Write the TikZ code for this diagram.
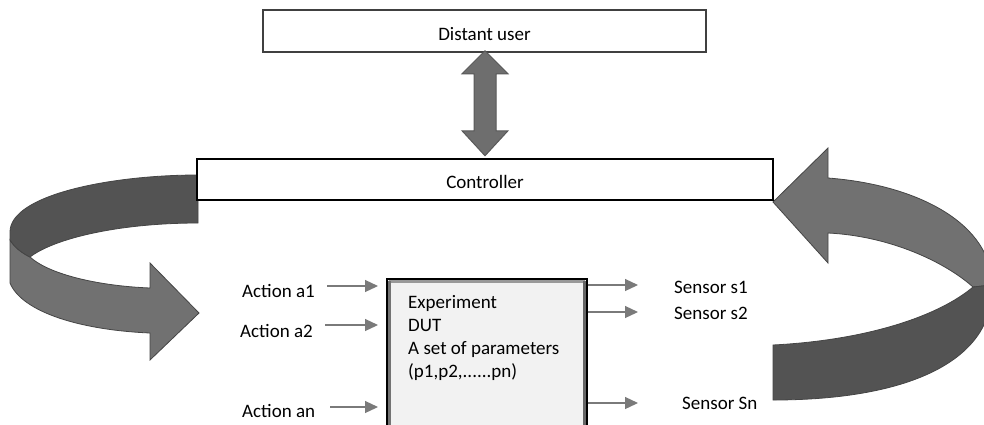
\documentclass[tikz,border=0pt]{standalone}
\usepackage{fontspec}
\setmainfont{Carlito}
\usetikzlibrary{arrows.meta,calc}
\definecolor{ribdark}{HTML}{535353}
\definecolor{riblight}{HTML}{717171}
\definecolor{ribedge}{HTML}{454545}
\definecolor{actgray}{HTML}{7A7A7A}
\definecolor{darrowfill}{HTML}{6E6E6E}
\tikzset{
  txt/.style={font=\fontsize{19}{23}\selectfont, inner sep=0pt},
  topbox/.style={draw=black!75, line width=1.5pt, fill=white, minimum width=443pt, minimum height=42pt, inner sep=0pt, text height=18pt, text depth=0pt, font=\fontsize{19}{23}\selectfont},
  ctrlbox/.style={draw=black, line width=2pt, fill=white, minimum width=576pt, minimum height=41pt, inner sep=0pt, text height=18pt, text depth=0pt, font=\fontsize{19}{23}\selectfont},
  expbox/.style={draw=black, line width=1.5pt, fill=black!5, minimum width=200pt, minimum height=156pt, inner sep=0pt},
  act/.style={draw=actgray, line width=1.2pt, -{Triangle[length=13pt,width=12pt]}, color=actgray},
  ribbonD/.style={fill=ribdark, draw=ribedge, line width=0.8pt},
  ribbonL/.style={fill=riblight, draw=ribedge, line width=0.8pt},
  dblarrow/.style={fill=darrowfill, draw=black!65, line width=1pt},
}
\begin{document}
\begin{tikzpicture}[x=1pt,y=-1pt]
\useasboundingbox (0,0) rectangle (984,424);
\clip (0,0) rectangle (984,424);

% left ribbon arrow (controller -> actions)
\filldraw[ribbonL] (10,240) -- (10,283) .. controls (22,312) and (80,330) .. (150,333)
  -- (150,360) -- (199,313) -- (150,263) -- (150,288)
  .. controls (100,286) and (50,275) .. (30,257)
  .. controls (22,253) and (15,248) .. (10,240) -- cycle;
\filldraw[ribbonD] (198,175) .. controls (110,175) and (10,195) .. (10,232) -- (10,240)
  .. controls (15,248) and (22,253) .. (30,257)
  .. controls (55,238) and (120,223) .. (198,223) -- cycle;

% right ribbon arrow (sensors -> controller)
\filldraw[ribbonL] (828,178) .. controls (920,185) and (992,225) .. (992,285) -- (973,287)
  .. controls (945,262) and (890,236) .. (828,233)
  -- (828,263) -- (773,202) -- (828,148) -- cycle;
\filldraw[ribbonD] (773,345) .. controls (870,340) and (940,315) .. (973,287) -- (992,285)
  .. controls (995,360) and (910,400) .. (773,400) -- cycle;

% boxes
\node[topbox] (user) at (484.5,31) {Distant user};
\node[ctrlbox] (ctrl) at (485,179.5) {Controller};

% double arrow between user and controller
\coordinate (dtop) at ($(user.south)+(0.5,-2)$);
\filldraw[dblarrow] (dtop) -- ++(23,23) -- ++(-12,0) -- ++(0,57) -- ++(12,0) -- ++(-23,25)
  -- ++(-23,-25) -- ++(12,0) -- ++(0,-57) -- ++(-12,0) -- cycle;

% experiment box
\node[expbox, anchor=north west] (exp) at (386,278) {};
\draw[black!40, line width=3pt] ($(exp.north west)+(3,3)$) -- ($(exp.north east)+(-3,3)$);
\draw[black!55, line width=3pt] ($(exp.north west)+(3,3)$) -- ($(exp.south west)+(3,0)$);
\draw[black!60, line width=3pt] ($(exp.north east)+(-3,3)$) -- ($(exp.south east)+(-3,0)$);
\node[txt, anchor=base west, align=left] (exptxt) at (408,377)
  {Experiment\\DUT\\A set of parameters\\(p1,p2,......pn)};

% actions
\node[txt, anchor=base west] (a1) at (242,297) {Action a1};
\node[txt, anchor=base west] (a2) at (240,337) {Action a2};
\node[txt, anchor=base west] (an) at (242,417) {Action an};
\coordinate (a1s) at (327,286);
\coordinate (a2s) at (325,325);
\coordinate (ans) at (330,407);
\draw[act, shorten >=8pt] (a1s) -- (a1s -| exp.west);
\draw[act, shorten >=8pt] (a2s) -- (a2s -| exp.west);
\draw[act, shorten >=8pt] (ans) -- (ans -| exp.west);

% sensors
\node[txt, anchor=base west] (s1) at (674,293) {Sensor s1};
\node[txt, anchor=base west] (s2) at (674,319) {Sensor s2};
\node[txt, anchor=base west] (sn) at (682,409) {Sensor Sn};
\coordinate (s1e) at (638,285);
\coordinate (s2e) at (638,312);
\coordinate (sne) at (638,403);
\draw[act] (s1e -| exp.east) -- (s1e);
\draw[act] (s2e -| exp.east) -- (s2e);
\draw[act] (sne -| exp.east) -- (sne);
\end{tikzpicture}
\end{document}
